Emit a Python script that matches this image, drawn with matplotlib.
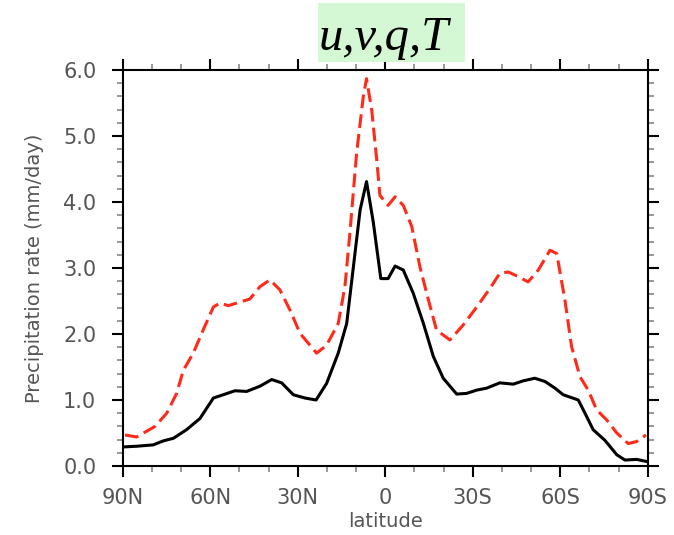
import matplotlib
matplotlib.use("Agg")
import matplotlib.pyplot as plt
from matplotlib.patches import Rectangle
from matplotlib.ticker import MultipleLocator

# zonal mean precipitation, latitude in degrees (N positive)
lat_black = [89.2, 85.0, 79.5, 76.1, 72.6, 68.1, 63.5, 58.9, 55.5, 51.5, 47.5, 42.9,
             38.9, 35.5, 31.5, 27.5, 23.7, 20.1, 16.1, 13.2, 10.9, 8.6, 6.4, 4.1,
             1.5, -1.0, -3.4, -6.2, -9.6, -13.1, -16.5, -19.9, -24.5, -27.9, -31.4,
             -34.8, -39.3, -43.9, -47.3, -51.3, -54.8, -58.2, -61.0, -66.2, -68.5,
             -71.3, -75.3, -79.4, -82.2, -86.2, -89.4]
prc_black = [0.29, 0.30, 0.32, 0.38, 0.42, 0.55, 0.72, 1.03, 1.08, 1.14, 1.13, 1.21,
             1.31, 1.26, 1.08, 1.03, 1.00, 1.25, 1.71, 2.16, 3.02, 3.88, 4.31, 3.70,
             2.84, 2.84, 3.03, 2.97, 2.62, 2.16, 1.66, 1.33, 1.09, 1.10, 1.15,
             1.18, 1.26, 1.24, 1.29, 1.33, 1.28, 1.18, 1.08, 1.00, 0.80,
             0.55, 0.39, 0.17, 0.09, 0.10, 0.07]

lat_red = [89.2, 85.2, 78.9, 74.9, 71.5, 69.2, 65.8, 62.4, 58.9, 56.6, 53.8, 46.4,
           42.9, 39.5, 36.1, 32.6, 29.2, 23.5, 20.1, 16.1, 13.8, 12.1, 9.8, 7.5,
           6.4, 4.6, 2.9, 1.8, -1.0, -3.4, -6.2, -9.1, -11.9, -14.8, -17.6, -22.2,
           -26.8, -31.4, -35.9, -39.3, -42.2, -45.6, -49.0, -52.5, -56.5, -58.8,
           -61.6, -63.9, -66.8, -69.6, -72.5, -75.9, -79.4, -83.3, -86.2, -89.4]
prc_red = [0.47, 0.44, 0.60, 0.80, 1.10, 1.45, 1.71, 2.06, 2.41, 2.47, 2.43, 2.53,
           2.72, 2.82, 2.67, 2.36, 2.01, 1.71, 1.83, 2.16, 2.72, 3.53, 4.74, 5.60,
           5.87, 5.39, 4.64, 4.10, 3.95, 4.08, 3.95, 3.63, 3.02, 2.52, 2.06, 1.91,
           2.14, 2.41, 2.69, 2.92, 2.94, 2.87, 2.79, 2.97, 3.27, 3.22,
           2.52, 1.81, 1.35, 1.15, 0.85, 0.70, 0.50, 0.34, 0.37, 0.47]

lat_ticks = [90, 60, 30, 0, -30, -60, -90]
lat_labels = ["90N", "60N", "30N", "0", "30S", "60S", "90S"]
y_ticks = [0, 1, 2, 3, 4, 5, 6]
y_labels = ["0.0", "1.0", "2.0", "3.0", "4.0", "5.0", "6.0"]

fig = plt.figure(figsize=(6.74, 5.35), dpi=100)
ax = fig.add_axes([0.182, 0.129, 0.779, 0.740])

ax.plot(lat_black, prc_black, color="black", lw=2.2)
ax.plot(lat_red, prc_red, color="#ff2a1a", lw=2.2, linestyle=(0, (4.5, 2)))

ax.set_xlim(90, -90)
ax.set_ylim(0, 6)
ax.set_xticks(lat_ticks)
ax.set_xticklabels(lat_labels)
ax.set_yticks(y_ticks)
ax.set_yticklabels(y_labels)
ax.xaxis.set_minor_locator(MultipleLocator(10))
ax.yaxis.set_minor_locator(MultipleLocator(0.2))

for s in ax.spines.values():
    s.set_linewidth(1.5)

ax.tick_params(which="both", direction="out", top=True, right=True,
               labelsize=15, labelcolor="#555555")
ax.tick_params(which="major", length=8, width=1.5)
ax.tick_params(which="minor", length=4.5, width=1.2, color="#888888")
ax.tick_params(axis="x", which="major", pad=8)
ax.tick_params(axis="y", which="major", pad=11)

ax.set_xlabel("latitude", fontsize=14, color="#555555", labelpad=3)
ax.set_ylabel("Precipitation rate (mm/day)", fontsize=14, color="#555555", labelpad=14)

# title label on a pale green box
fig.patches.append(Rectangle((318 / 674, 1 - 62 / 535), 147 / 674, 59 / 535,
                             transform=fig.transFigure, facecolor="#d4f8d4",
                             edgecolor="none", zorder=5))
fig.text(319 / 674, 1 - 50 / 535, "u,v,q,T", family="Liberation Serif",
         style="italic", fontsize=35, ha="left", va="baseline", zorder=6)

fig.savefig("out.png", dpi=100)
